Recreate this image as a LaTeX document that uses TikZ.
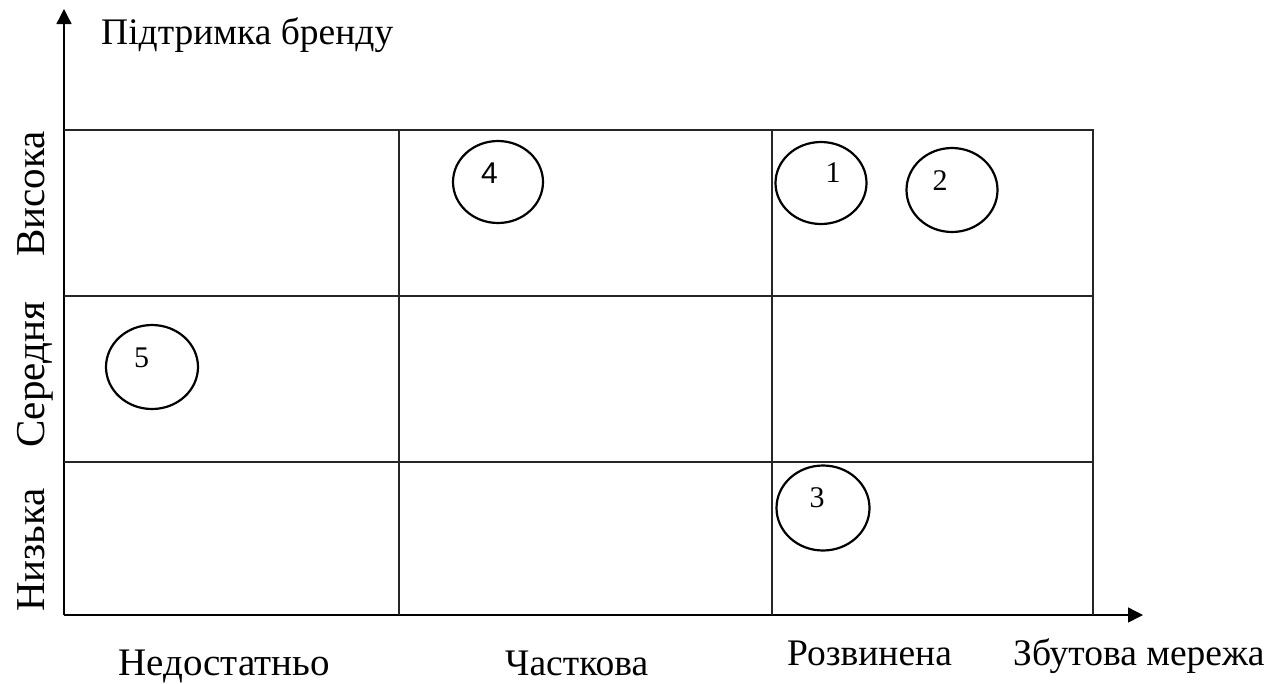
\documentclass[tikz,border=0pt]{standalone}
\usepackage{fontspec}
\setmainfont{Liberation Serif}
\newfontfamily\digitsans{Liberation Sans}
\usetikzlibrary{arrows.meta,shapes.geometric}

\tikzset{
  axisline/.style={line width=1.4pt, -{Triangle[length=15pt,width=15pt]}},
  gridline/.style={line width=1.2pt, draw=black!85},
  firm/.style={draw, ellipse, line width=2.2pt, inner sep=0pt},
  firmno/.style={anchor=base, inner sep=0pt, font=\fontsize{30}{30}\selectfont},
  axislabel/.style={inner sep=0pt, font=\fontsize{37.5}{40}\selectfont},
  rowlabel/.style={inner sep=0pt, anchor=base, rotate=90, font=\fontsize{41}{44}\selectfont},
}

\begin{document}
\begin{tikzpicture}[x=1pt, y=-1pt]
  \useasboundingbox (0,0) rectangle (1276,683);

  % axes
  \coordinate (O) at (64,615);
  \coordinate (ytip) at (64,9);
  \coordinate (xtip) at (1143,615);
  \draw[axisline] (O) -- (ytip);
  \draw[axisline] (O) -- (xtip);

  % grid cells
  \coordinate (tl) at (64,130);
  \coordinate (tr) at (1093,130);
  \draw[gridline] (tl) -- (tr) -- (1093,615);
  \draw[gridline] (64,296) -- (1093,296);
  \draw[gridline] (64,462) -- (1093,462);
  \draw[gridline] (399,130) -- (399,615);
  \draw[gridline] (772,130) -- (772,615);

  % positions of the companies
  \node[firm, minimum width=90pt, minimum height=82pt] (c4) at (498,182) {};
  \node[firm, minimum width=91pt, minimum height=82pt] (c1) at (821,183) {};
  \node[firm, minimum width=91pt, minimum height=84pt] (c2) at (952,190) {};
  \node[firm, minimum width=92pt, minimum height=84pt] (c5) at (152,367) {};
  \node[firm, minimum width=93pt, minimum height=85pt] (c3) at (823,508) {};

  \node[firmno, font=\digitsans\fontsize{30}{30}\selectfont] (n4) at (489.5,183) {4};
  \node[firmno] (n1) at (833,182) {1};
  \node[firmno] (n2) at (940,190) {2};
  \node[firmno] (n5) at (141.5,367) {5};
  \node[firmno] (n3) at (817,507) {3};

  % axis titles
  \node[axislabel, anchor=base west] (ytitle) at (101,44) {Підтримка бренду};
  \node[axislabel, anchor=base west] (xtitle) at (1013,665) {Збутова мережа};

  % column labels
  \node[axislabel, anchor=base west, font=\fontsize{39}{40}\selectfont] (col1) at (118,675) {Недостатньо};
  \node[axislabel, anchor=base west] (col2) at (505,675) {Часткова};
  \node[axislabel, anchor=base west] (col3) at (787,665) {Розвинена};

  % row labels
  \node[rowlabel] (row1) at (44,194) {Висока};
  \node[rowlabel] (row2) at (44,375) {Середня};
  \node[rowlabel] (row3) at (44,550) {Низька};
\end{tikzpicture}
\end{document}
